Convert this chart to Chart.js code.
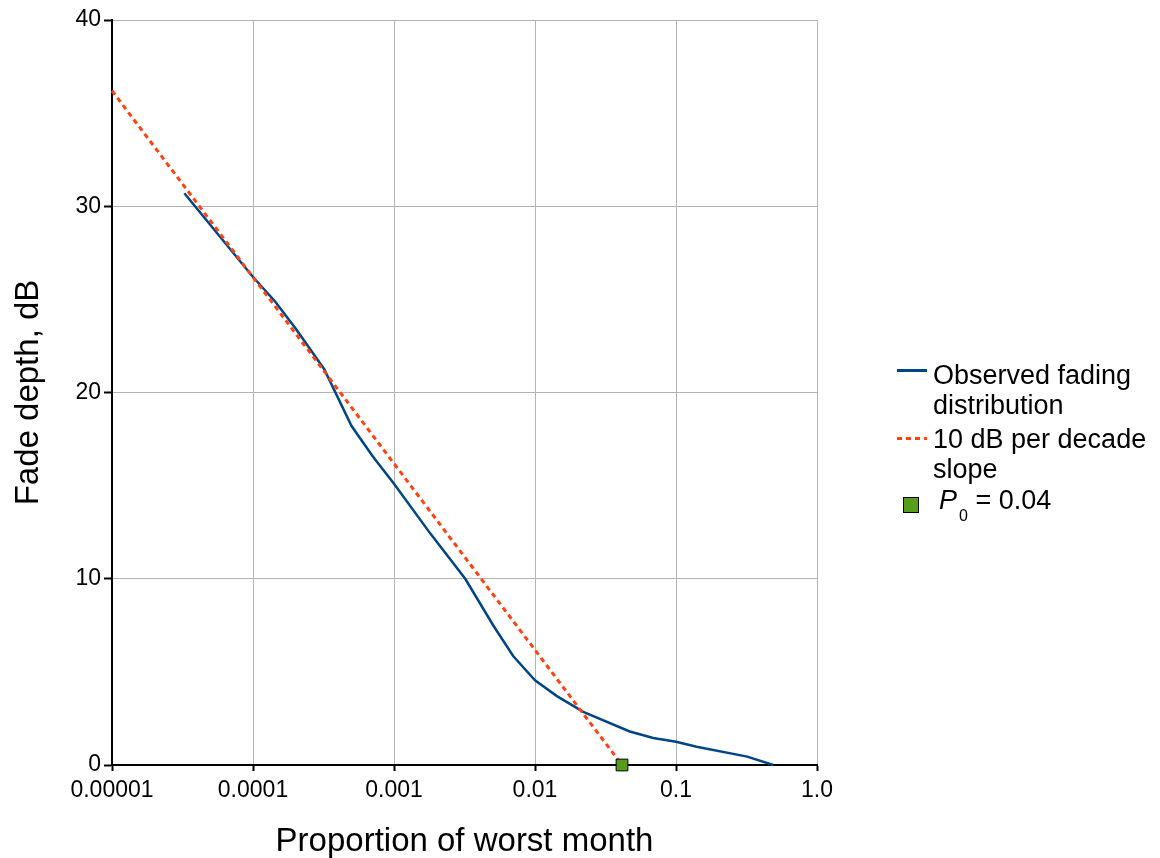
<!DOCTYPE html>
<html>
<head>
<meta charset="utf-8">
<script src="https://cdn.jsdelivr.net/npm/chart.js@4/dist/chart.umd.min.js"></script>
<style>
  html, body { margin: 0; padding: 0; background: #fff; }
  #wrap { position: relative; width: 1160px; height: 858px; }
  #c { position: absolute; left: 0; top: 0; }
  .leg { position: absolute; font-family: "Liberation Sans", Arial, sans-serif; font-size: 27px; line-height: 30px; color: #000; white-space: nowrap; }
  .sw { position: absolute; }
</style>
</head>
<body>
<div id="wrap">
  <canvas id="c" width="1160" height="858"></canvas>
  <div class="sw" style="left:897px;top:369px;width:30px;height:3px;background:#004586;"></div>
  <div class="leg" style="left:933px;top:360px;">Observed fading<br>distribution</div>
  <div class="sw" style="left:897px;top:437px;width:30px;height:3px;background:repeating-linear-gradient(to right,#ff420e 0 5px,transparent 5px 9px);"></div>
  <div class="leg" style="left:933px;top:424px;">10 dB per decade<br>slope</div>
  <div class="sw" style="left:903px;top:497px;width:14px;height:14px;background:#579d1c;border:1px solid #000;"></div>
  <div class="leg" style="left:939px;top:485px;"><i>P</i><sub style="font-size:16px;vertical-align:-12px;margin-left:2px;">0</sub> = 0.04</div>
</div>
<script>
const xTickValues = [0.00001, 0.0001, 0.001, 0.01, 0.1, 1];
const xTickLabels = ["0.00001", "0.0001", "0.001", "0.01", "0.1", "1.0"];

const observedP  = [3.26e-5, 1e-4, 1.43e-4, 2.0e-4, 3.2e-4, 5.0e-4, 7.1e-4, 1e-3, 1.8e-3, 3.2e-3, 5.1e-3, 7.0e-3, 0.01, 0.0143, 0.022, 0.047, 0.069, 0.1, 0.14, 0.32, 0.49];
const observedDb = [30.7, 26.2, 24.9, 23.45, 21.25, 18.2, 16.55, 15.1, 12.45, 10.0, 7.45, 5.85, 4.55, 3.7, 2.85, 1.8, 1.45, 1.25, 0.98, 0.45, 0];

const slopeP  = [0.00001, 0.0414];
const slopeDb = [36.2, 0];

const p0P  = [0.0414];
const p0Db = [0];

const zip = (xs, ys) => xs.map((x, i) => ({ x: x, y: ys[i] }));

const font = "'Liberation Sans', Arial, sans-serif";

new Chart(document.getElementById('c'), {
  type: 'line',
  data: {
    datasets: [
      {
        label: 'P0 = 0.04',
        data: zip(p0P, p0Db),
        showLine: false,
        pointStyle: 'rect',
        pointRadius: 8.3,
        pointBackgroundColor: '#579d1c',
        pointBorderColor: '#000',
        pointBorderWidth: 1,
        order: 0
      },
      {
        label: '10 dB per decade slope',
        data: zip(slopeP, slopeDb),
        borderColor: '#ff420e',
        borderWidth: 3,
        borderDash: [5, 4],
        pointRadius: 0,
        order: 1
      },
      {
        label: 'Observed fading distribution',
        data: zip(observedP, observedDb),
        borderColor: '#004586',
        borderWidth: 2.5,
        pointRadius: 0,
        tension: 0,
        order: 2
      }
    ]
  },
  options: {
    responsive: false,
    animation: false,
    clip: false,
    layout: { padding: { top: 20, right: 343, bottom: 0, left: 0 } },
    plugins: { legend: { display: false }, tooltip: { enabled: false } },
    scales: {
      x: {
        type: 'logarithmic',
        min: 0.00001,
        max: 1,
        afterBuildTicks: (scale) => { scale.ticks = xTickValues.map(v => ({ value: v })); },
        afterFit: (scale) => { scale.height = 93; },
        ticks: {
          autoSkip: false,
          maxRotation: 0,
          color: '#000',
          font: { family: font, size: 23 },
          padding: 6,
          callback: (v, i) => xTickLabels[i]
        },
        grid: { color: '#b3b3b3', lineWidth: 1, tickColor: '#000', tickLength: 6, tickWidth: 2 },
        border: { color: '#000', width: 2 },
        title: {
          display: true,
          text: 'Proportion of worst month',
          color: '#000',
          font: { family: font, size: 33 },
          padding: { top: 0, bottom: -4 }
        }
      },
      y: {
        min: 0,
        max: 40,
        afterFit: (scale) => { scale.width = 112; },
        ticks: {
          stepSize: 10,
          color: '#000',
          font: { family: font, size: 23 },
          padding: 3
        },
        grid: { color: '#b3b3b3', lineWidth: 1, tickColor: '#000', tickLength: 8, tickWidth: 2 },
        border: { color: '#000', width: 2 },
        title: {
          display: true,
          text: 'Fade depth, dB',
          color: '#000',
          font: { family: font, size: 33 },
          padding: { top: 9, bottom: 0 }
        }
      }
    }
  }
});
</script>
</body>
</html>
